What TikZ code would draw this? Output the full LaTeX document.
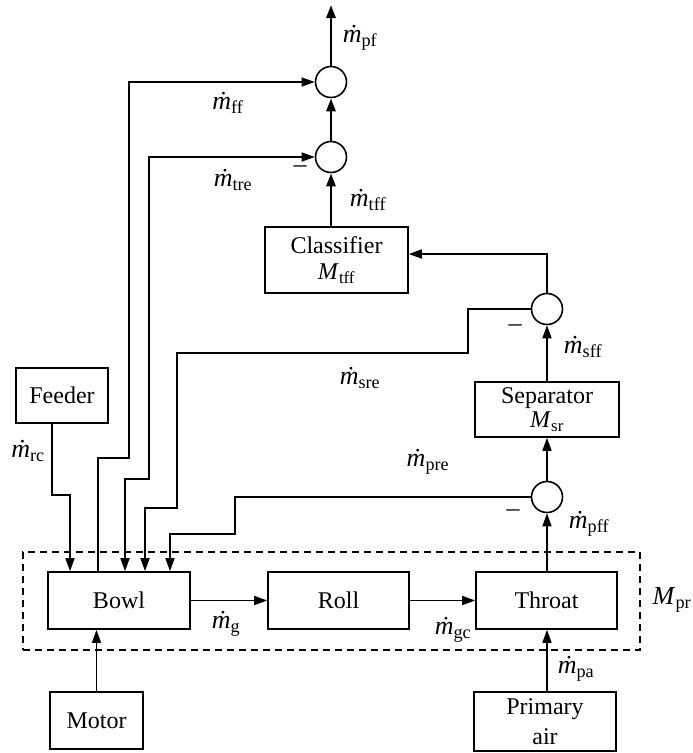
\documentclass[tikz,border=0pt]{standalone}
\usepackage{amsmath}
\usepackage{fontspec}
\setmainfont{Liberation Serif}
\usetikzlibrary{arrows.meta}
\newcommand\mdt[1]{\textit{ṁ}\textsubscript{#1}}
\newcommand\Mb[1]{\textit{M}\textsubscript{#1}}
\begin{document}
\begin{tikzpicture}[x=1pt,y=-1pt,
  every node/.style={font=\fontsize{24}{28}\selectfont},
  box/.style={draw, line width=1.6pt, inner sep=0pt, align=center},
  sumj/.style={draw, circle, line width=1.6pt, minimum size=31pt, inner sep=0pt},
  ln/.style={line width=1.6pt},
  thk/.style={line width=2.8pt},
  arr/.style={-{Triangle[length=13pt,width=9pt]}},
  lbl/.style={inner sep=0pt, font=\fontsize{26}{30}\selectfont},
  dsh/.style={draw, line width=1.6pt, dash pattern=on 7pt off 5pt, inner sep=0pt},
]
\useasboundingbox (0,0) rectangle (693,753);
% boxes
\node[dsh, minimum width=617pt, minimum height=98pt] (mpr) at (331.5,601) {};
\node[box, minimum width=142pt, minimum height=57pt] (bowl) at (119,600.5) {Bowl};
\node[box, minimum width=141pt, minimum height=57pt] (roll) at (338.5,600.5) {Roll};
\node[box, minimum width=141pt, minimum height=57pt] (throat) at (546.5,600.5) {Throat};
\node[box, minimum width=93pt, minimum height=57pt] (motor) at (96.5,720.5) {Motor};
\node[box, minimum width=142pt, minimum height=59pt] (pa) at (545,721.5) {Primary\\[2pt]air};
\node[box, minimum width=92pt, minimum height=55pt] (feed) at (62,395.5) {Feeder};
\node[box, minimum width=144pt, minimum height=55pt] (sep) at (547,409.5) {Separator\\[-4pt]\Mb{sr}};
\node[box, minimum width=143pt, minimum height=66pt] (clas) at (336.5,260) {Classifier\\[-2pt]\Mb{tff}};
% summing junctions
\node[sumj] (S1) at (331,82) {};
\node[sumj] (S2) at (331,157) {};
\node[sumj] (S3) at (547,309) {};
\node[sumj] (S4) at (547,497) {};
\coordinate (out) at (331,5);
% main vertical chain
\draw[thk,arr] (S1.north) -- (out);
\draw[thk,arr] (S2.north) -- (S1.south);
\draw[thk,arr] (S2 |- clas.north) -- (S2.south);
\draw[ln,arr] (S3.north) -- (547,254) -- (clas.east |- 0,254);
\draw[ln,arr] (sep.north -| S3) -- (S3.south);
\draw[ln,arr] (S4.north) -- (sep.south -| S4);
\draw[ln,arr] (throat.north -| S4) -- (S4.south);
\draw[ln,arr] (pa.north -| S4) -- (throat.south -| S4);
\draw[ln,arr] (motor.north) -- (motor.north |- bowl.south);
\draw[ln,arr] (bowl.east) -- (roll.west);
\draw[ln,arr] (roll.east) -- (throat.west);
% recirculation paths
\draw[ln,arr] (98,0 |- bowl.north) -- (98,458) -- (129,458) -- (129,0 |- S1) -- (S1.west);
\draw[ln,{Triangle[length=13pt,width=9pt]}-{Triangle[length=13pt,width=9pt]}] (S2.west) -- (149,0 |- S2) -- (149,479) -- (125,479) -- (125,0 |- bowl.north);
\draw[ln,arr] (S3.west) -- (468,0 |- S3) -- (468,353) -- (177,353) -- (177,508) -- (145,508) -- (145,0 |- bowl.north);
\draw[ln,arr] (S4.west) -- (235,0 |- S4) -- (235,534) -- (170,534) -- (170,0 |- bowl.north);
\draw[ln,arr] (52,0 |- feed.south) -- (52,495) -- (70,495) -- (70,0 |- bowl.north);
% labels
\node[lbl] (lpf) at (360,38) {\mdt{pf}};
\node[lbl] (lff) at (228,103) {\mdt{ff}};
\node[lbl] (ltre) at (233,180) {\mdt{tre}};
\node[lbl] (m2) at (300,169) {–};
\node[lbl] (ltff) at (368,200) {\mdt{tff}};
\node[lbl] (lsre) at (360,378) {\mdt{sre}};
\node[lbl] (m3) at (515,328) {–};
\node[lbl] (lsff) at (583,347) {\mdt{sff}};
\node[lbl] (lpre) at (428,462) {\mdt{pre}};
\node[lbl] (m4) at (513,513) {–};
\node[lbl] (lpff) at (589,524) {\mdt{pff}};
\node[lbl] (lrc) at (28,451) {\mdt{rc}};
\node[lbl] (lg) at (226,624) {\mdt{g}};
\node[lbl] (lgc) at (453,630) {\mdt{gc}};
\node[lbl] (lpa) at (576,669) {\mdt{pa}};
\node[lbl] (lmpr) at (672,600) {\Mb{pr}};
\end{tikzpicture}
\end{document}
